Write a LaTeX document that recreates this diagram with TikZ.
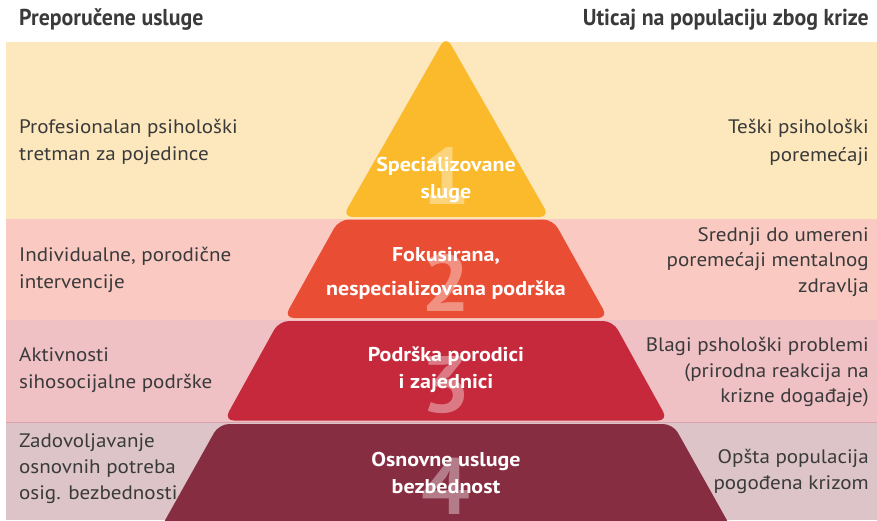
\documentclass[tikz,border=0pt]{standalone}
\usepackage{fontspec}
\setmainfont{PT Sans}[FakeStretch=1.08]
\newfontfamily\condfont{PT Sans}[FakeStretch=0.95]
\newfontfamily\layfont{PT Sans}[FakeStretch=1.1]
\definecolor{bandA}{HTML}{FDE8BE}
\definecolor{bandB}{HTML}{F9C9C2}
\definecolor{bandC}{HTML}{EFC0C4}
\definecolor{bandD}{HTML}{DCC4C8}
\definecolor{layA}{HTML}{FBBA2B}
\definecolor{layB}{HTML}{E94E35}
\definecolor{layC}{HTML}{C6293B}
\definecolor{layD}{HTML}{862D41}
\definecolor{txt}{HTML}{3A3A3A}
\definecolor{sep}{HTML}{D9A2AA}
\tikzset{
  sidetext/.style={text=txt, inner sep=0pt, font=\fontsize{19.5}{27}\selectfont},
  lefttext/.style={sidetext, anchor=west, align=left},
  righttext/.style={sidetext, anchor=east, align=right},
  headtext/.style={text=txt, inner sep=0pt, font=\condfont\bfseries\fontsize{23}{26}\selectfont},
  laytext/.style={text=white, inner sep=0pt, align=center, font=\layfont\bfseries\fontsize{20}{27}\selectfont},
  bignum/.style={text=white, text opacity=0.38, inner sep=0pt, font=\bfseries\fontsize{80}{80}\selectfont},
}
\begin{document}
\begin{tikzpicture}[x=1pt,y=-1pt]
\useasboundingbox (0,0) rectangle (877,520);
\begin{scope}
\clip (0,0) rectangle (877,520);
\fill[bandA] (6,42) rectangle (877,218.5);
\fill[bandB] (6,218.5) rectangle (877,319.5);
\fill[bandC] (6,319.5) rectangle (877,422);
\fill[bandD] (6,422) rectangle (877,520);
\draw[sep, line width=0.8pt] (6,422) -- (877,422);
\fill[layA, rounded corners=10pt] (446,36) -- (549.5,217) -- (342.5,217) -- cycle;
\fill[layB, rounded corners=10pt] (339,219.5) -- (553,219.5) -- (608,318) -- (284,318) -- cycle;
\fill[layC, rounded corners=10pt] (279,321) -- (613,321) -- (668,420.5) -- (224,420.5) -- cycle;
\fill[layD, rounded corners=10pt] (219,424) -- (673,424) -- (738,540) -- (154,540) -- cycle;
\end{scope}

\node[bignum] (n1) at (446,176) {1};
\node[bignum] (n2) at (446,283) {2};
\node[bignum] (n3) at (446,385) {3};
\node[bignum] (n4) at (446,486) {4};

\node[laytext] (l1) at (446,180) {Specializovane\\sluge};
\node[laytext, font=\layfont\bfseries\fontsize{20}{34}\selectfont] (l2) at (446,273) {Fokusirana,\\nespecializovana podrška};
\node[laytext] (l3) at (446,370) {Podrška porodici\\i zajednici};
\node[laytext] (l4) at (446,473) {Osnovne usluge\\bezbednost};

\node[headtext, anchor=west] (h1) at (19,20) {Preporučene usluge};
\node[headtext, anchor=east] (h2) at (869,20) {Uticaj na populaciju zbog krize};

\node[lefttext] (a1) at (19,142) {Profesionalan psihološki\\tretman za pojedince};
\node[lefttext] (a2) at (19,270) {Individualne, porodične\\intervencije};
\node[lefttext] (a3) at (19,370) {Aktivnosti\\sihosocijalne podrške};
\node[lefttext, font=\fontsize{19.5}{26}\selectfont] (a4) at (19,469) {Zadovoljavanje\\osnovnih potreba\\osig. bezbednosti};

\node[righttext, font=\fontsize{19.5}{28}\selectfont] (b1) at (869,142) {Teški psihološki\\poremećaji};
\node[righttext, font=\fontsize{19.5}{25.5}\selectfont] (b2) at (869,262) {Srednji do umereni\\poremećaji mentalnog\\zdravlja};
\node[righttext, font=\fontsize{19.5}{25.5}\selectfont] (b3) at (869,372) {Blagi pshološki problemi\\(prirodna reakcija na\\krizne događaje)};
\node[righttext, font=\fontsize{19.5}{26}\selectfont] (b4) at (869,471) {Opšta populacija\\pogođena krizom};
\end{tikzpicture}
\end{document}
